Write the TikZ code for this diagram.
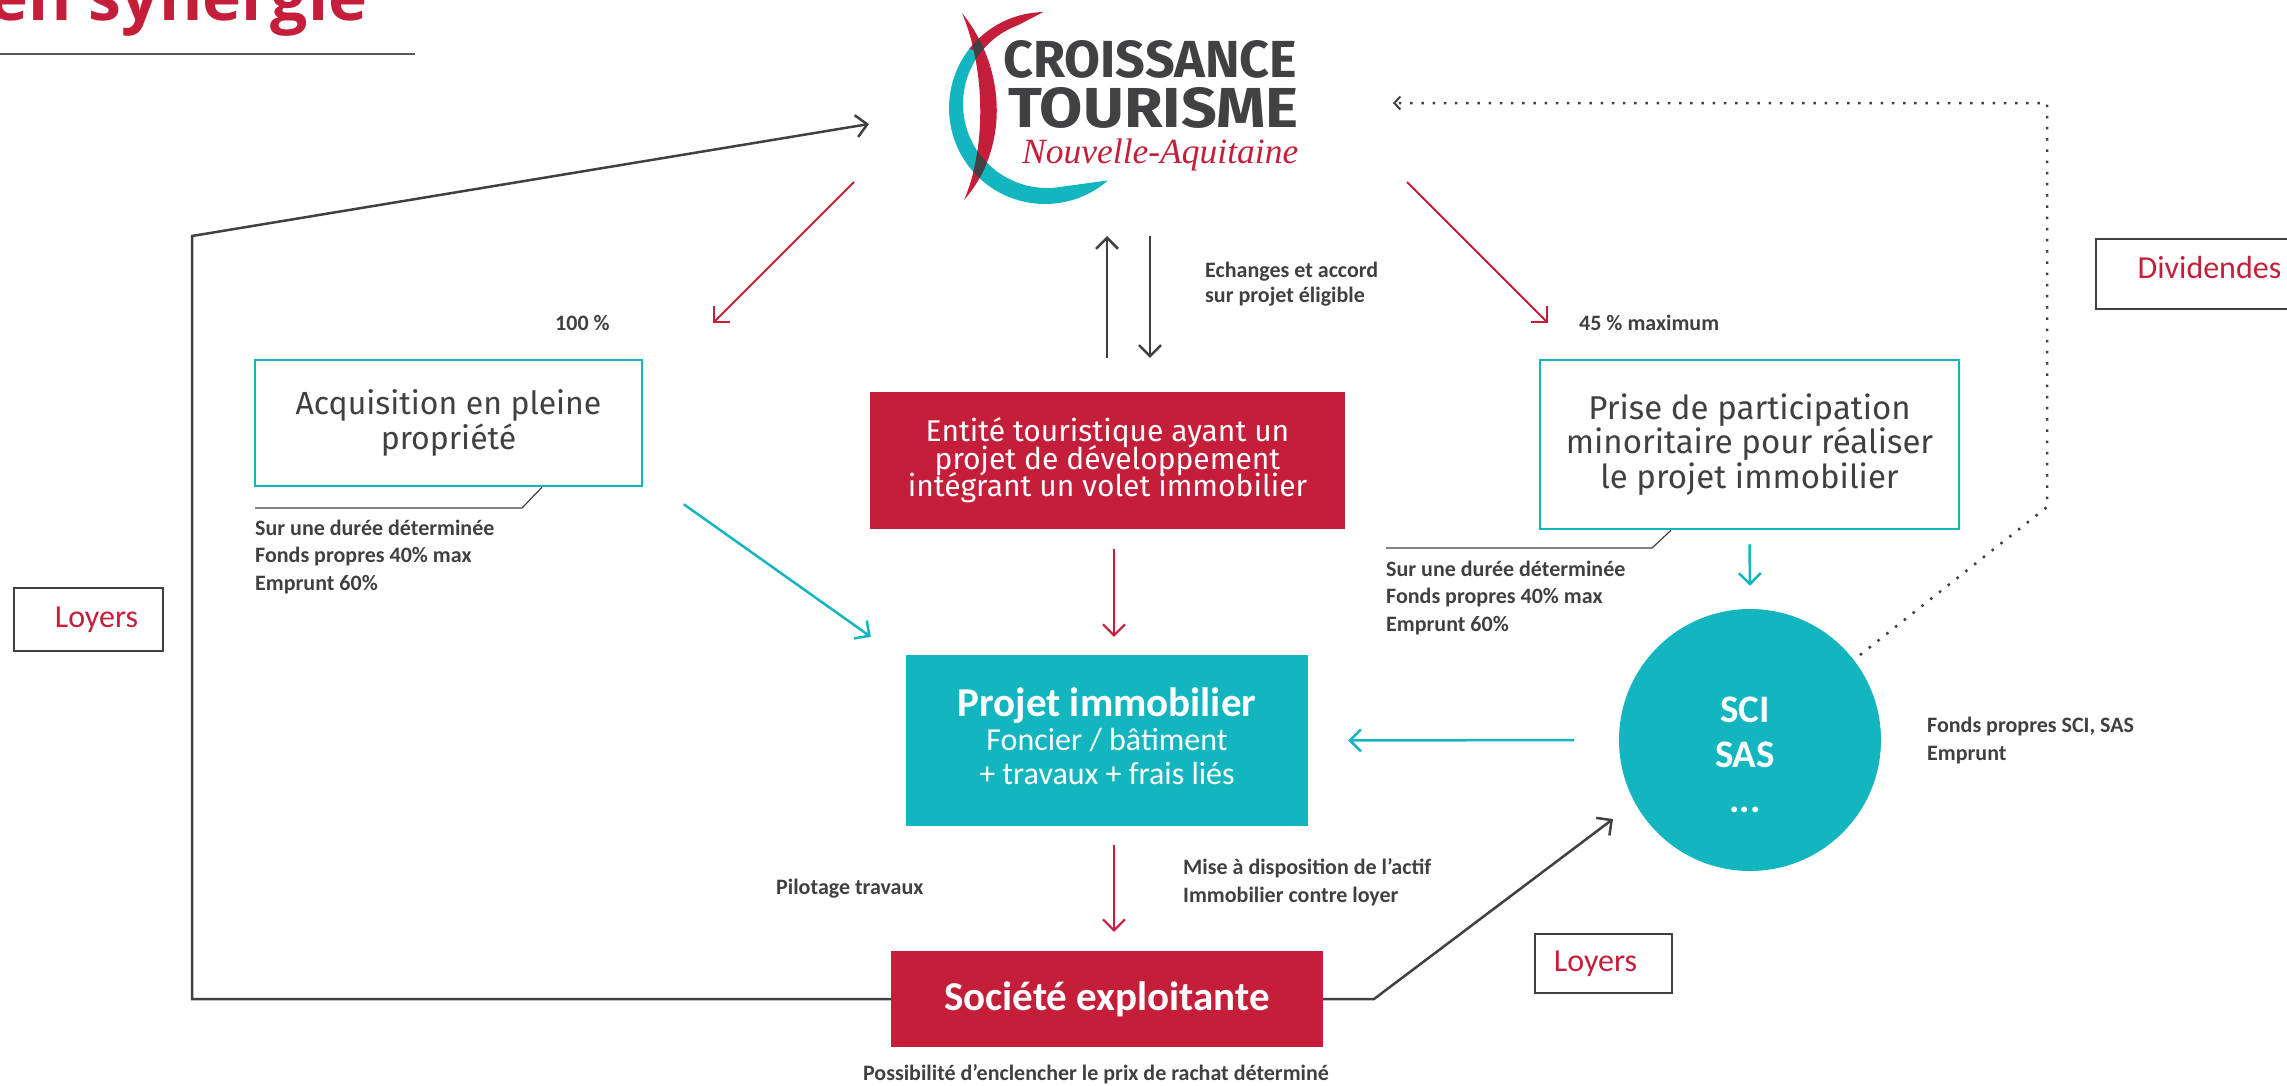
\documentclass[tikz,border=0pt]{standalone}
\usepackage{fontspec}
\usepackage{graphicx}
\usetikzlibrary{arrows.meta}
\setmainfont{Fira Sans}
\newfontfamily\carl{Carlito}
\newfontfamily\opens{Open Sans}
\newfontfamily\serifit{Liberation Serif}
\newcommand\ctight{\setlength{\lineskiplimit}{-50pt}\setlength{\lineskip}{0pt}}
\definecolor{ctred}{HTML}{C41E3A}
\definecolor{ctteal}{HTML}{13B5BF}
\definecolor{ctgray}{HTML}{404040}
\definecolor{ctdark}{HTML}{414042}
\definecolor{ctline}{HTML}{595959}
\tikzset{
  ctbarb/.style={-{Straight Barb[length=11pt,width=22pt]}},
  grayarrow/.style={draw=ctgray, line width=2.5pt, ctbarb},
  redarrow/.style={draw=ctred, line width=2pt, ctbarb},
  tealarrow/.style={draw=ctteal, line width=2.5pt, ctbarb},
  dotarrow/.style={draw=ctgray, line width=2.5pt, dash pattern=on 2.5pt off 8.7pt, -{Straight Barb[length=6pt,width=13pt,line width=2pt]}},
  tealbox/.style={draw=ctteal, line width=2.5pt, fill=white, inner sep=0pt, align=center, text=ctgray, font=\fontsize{32}{34.5}\selectfont},
  redbox/.style={fill=ctred, inner sep=0pt, align=center, text=white},
  framebox/.style={draw=ctgray, line width=2.5pt, inner sep=0pt, text=ctred, font=\carl\fontsize{32}{36}\selectfont},
  lbl/.style={anchor=base west, inner sep=0pt, align=left, text=ctgray, font=\carl\bfseries\fontsize{22}{27.5}\selectfont},
  callout/.style={draw=ctgray, line width=1.2pt},
}
\begin{document}
\begin{tikzpicture}[x=1pt,y=-1pt]
\useasboundingbox (0,0) rectangle (2287,1085);
% title
\node[anchor=base west, inner sep=0pt, text=ctred, font=\opens\bfseries\fontsize{66}{70}\selectfont] (title) at (-11,20) {en synergie};
\draw[ctline, line width=1.5pt] (0,54) coordinate (ulA) -- (415,54) coordinate (ulB);

% logo
\fill[ctteal] ([shift={(1045,108)}]49:96) arc[start angle=49, end angle=226, radius=96]
  -- ([shift={(1047,104)}]226:84) arc[start angle=226, end angle=80, radius=84] -- cycle;
\fill[ctred] ([shift={(1045,108)}]218:96) arc[start angle=218, end angle=269, radius=96]
  -- ([shift={(1047,104)}]250:84) arc[start angle=250, end angle=218, radius=84] -- cycle;
\fill[ctred] (962,13) .. controls (1008,70) and (1008,150) .. (964,200)
  .. controls (986,150) and (986,70) .. (962,13) -- cycle;
\begin{scope}
  \clip (962,13) .. controls (1008,70) and (1008,150) .. (964,200)
    .. controls (986,150) and (986,70) .. (962,13) -- cycle;
  \fill[ctdark, even odd rule] (1045,108) circle[radius=96] (1047,104) circle[radius=84];
\end{scope}
\node[anchor=base west, inner sep=0pt, text=ctdark] (cro) at (1003,77) {\resizebox{294pt}{37pt}{\bfseries CROISSANCE}};
\node[anchor=base west, inner sep=0pt, text=ctdark] (tour) at (1008,127) {\resizebox{290pt}{40pt}{\bfseries TOURISME}};
\node[anchor=base west, inner sep=0pt, text=ctred] (na) at (1022,163) {\resizebox{276pt}{!}{\serifit\itshape Nouvelle-Aquitaine}};

% coordinates around the logo
\coordinate (logoL) at (869,124);
\coordinate (logoSW) at (854,182);
\coordinate (logoSE) at (1407,182);
\coordinate (logoR) at (1393,103);
\coordinate (logoB1) at (1107,236);
\coordinate (logoB2) at (1150,236);

% boxes
\node[tealbox, minimum width=387pt, minimum height=126pt] (acq) at (448.5,423) {Acquisition en pleine\\propriété};
\node[tealbox, minimum width=419pt, minimum height=169pt, font=\fontsize{33}{34.5}\selectfont] (prise) at (1749.5,444.5) {Prise de participation\\minoritaire pour réaliser\\le projet immobilier};
\node[redbox, minimum width=475pt, minimum height=137pt, font=\fontsize{30}{27.5}\selectfont\ctight] (ent) at (1107.5,460.5) {Entité touristique ayant un\\projet de développement\\intégrant un volet immobilier};
\node[fill=ctteal, minimum width=402pt, minimum height=171pt, inner sep=0pt, align=center, text=white, text depth=8pt, font=\carl\fontsize{32}{34}\selectfont] (proj) at (1107,740.5) {{\bfseries\fontsize{41}{44}\selectfont Projet immobilier}\\Foncier / bâtiment\\+ travaux + frais liés};
\node[redbox, minimum width=432pt, minimum height=96pt, font=\carl\bfseries\fontsize{41}{44}\selectfont] (soc) at (1107,999) {Société exploitante};
\node[circle, fill=ctteal, minimum size=262pt, inner sep=0pt] (sci) at (1750,740) {};
\node[align=center, inner sep=0pt, text=white, font=\carl\bfseries\fontsize{39}{45}\selectfont] (scitext) at (1745,754.5) {SCI\\SAS\\...};

\node[framebox, minimum width=149pt, minimum height=63pt] (loyA) at (88.5,619.5) {\hspace*{16pt}Loyers};
\node[framebox, minimum width=137pt, minimum height=59pt] (loyB) at (1603.5,963.5) {Loyers\hspace*{16pt}};
\node[framebox, minimum width=227pt, minimum height=70pt, text depth=14pt] (div) at (2209.5,274) {Dividendes};

% labels (base = baseline of the last line)
\node[lbl] (pct100) at (555,330) {100 \%};
\node[lbl] (pct45) at (1579,330) {45 \% maximum};
\node[lbl, font=\carl\bfseries\fontsize{22}{25}\selectfont] (ech) at (1205,302) {Echanges et accord\\sur projet éligible};
\node[lbl] (condA) at (255,590) {Sur une durée déterminée\\Fonds propres 40\% max\\Emprunt 60\%};
\node[lbl] (condB) at (1386,631) {Sur une durée déterminée\\Fonds propres 40\% max\\Emprunt 60\%};
\node[lbl, font=\carl\bfseries\fontsize{22}{28}\selectfont] (fonds) at (1927,760) {Fonds propres SCI, SAS\\Emprunt};
\node[lbl] (pilot) at (776,894) {Pilotage travaux};
\node[lbl, font=\carl\bfseries\fontsize{22}{28}\selectfont] (mise) at (1183,902) {Mise à disposition de l’actif\\Immobilier contre loyer};
\node[lbl, anchor=base] (rachat) at (1096,1080) {Possibilité d’enclencher le prix de rachat déterminé};

% callouts
\draw[callout] ([xshift=93.5pt]acq.south) -- (522,508) coordinate (calA) -- (255,508) coordinate (calA2);
\draw[callout] ([xshift=-78.5pt]prise.south) -- (1652,548) coordinate (calB) -- (1386,548) coordinate (calB2);

% arrows
\coordinate (acqIn) at (713,323);
\coordinate (priseIn) at (1548,323);
\draw[redarrow] (logoSW) -- (acqIn);
\draw[redarrow] (logoSE) -- (priseIn);
\draw[grayarrow] ([xshift=-0.5pt,yshift=34pt]ent.north) -- (logoB1);
\draw[grayarrow] (logoB2) -- ([xshift=42.5pt,yshift=34pt]ent.north);
\draw[redarrow] ([xshift=6.5pt,yshift=-20pt]ent.south) -- ([xshift=7pt,yshift=18pt]proj.north);
\draw[tealarrow] ([xshift=40.5pt,yshift=-17pt]acq.south east) -- ([xshift=-35pt,yshift=18pt]proj.north west);
\draw[tealarrow] ([yshift=-14pt]prise.south) -- ([yshift=23pt]sci.north);
\draw[tealarrow] ([xshift=-45pt]sci.west) -- ([xshift=40pt]proj.east);
\draw[redarrow] ([xshift=7pt,yshift=-19pt]proj.south) -- ([xshift=7pt,yshift=19pt]soc.north);

\coordinate (lb) at (192,999);
\coordinate (lt) at (192,236);
\draw[grayarrow] (soc.west) -- (lb) -- (lt) -- (logoL);
\coordinate (rb) at (1374,999);
\coordinate (sciIn) at (1613,819);
\draw[grayarrow] (soc.east) -- (rb) -- (sciIn);
\coordinate (dstart) at (1860,655);
\coordinate (dmid) at (2047,507);
\coordinate (dtop) at (2047,103);
\draw[dotarrow] (dstart) -- (dmid) -- (dtop) -- (logoR);
\end{tikzpicture}
\end{document}
